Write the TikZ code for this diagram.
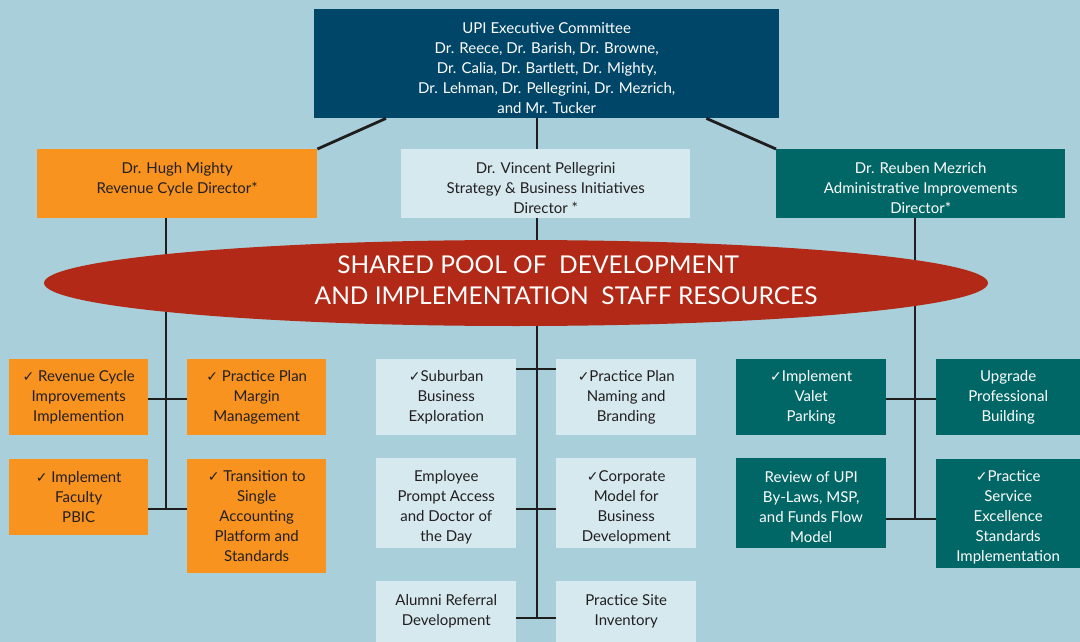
\documentclass[tikz,border=0pt]{standalone}
\usepackage{fontspec}
\setmainfont{Lato}
\newfontfamily\symfont{DejaVu Sans}
\usetikzlibrary{calc,shapes.geometric}
\definecolor{bgblue}{RGB}{169,207,218}
\definecolor{navyC}{RGB}{0,70,105}
\definecolor{orangeC}{RGB}{247,147,30}
\definecolor{paleC}{RGB}{213,233,239}
\definecolor{tealC}{RGB}{0,103,102}
\definecolor{redC}{RGB}{178,42,23}
\definecolor{inkC}{RGB}{35,31,32}
\definecolor{lineC}{RGB}{30,30,30}
% tick mark for completed items
\newcommand\ck{{\symfont\fontsize{14}{20}\selectfont ✓}}
% tall strut that lowers a text block inside its box
\newcommand\tp{\rule{0pt}{19pt}}
\begin{document}
\begin{tikzpicture}[x=1pt,y=-1pt,
  box/.style={rectangle, inner sep=2pt, align=center, anchor=north west,
    font=\fontsize{15}{20}\selectfont},
  obox/.style={box, fill=orangeC, text=inkC},
  pbox/.style={box, fill=paleC, text=inkC},
  tbox/.style={box, fill=tealC, text=white},
  nbox/.style={box, fill=navyC, text=white},
  conn/.style={draw=lineC, line width=2.8pt},
  pooltext/.style={text=white, font=\fontsize{24.5}{30}\selectfont, inner sep=0pt}]
\useasboundingbox[fill=bgblue] (0,0) rectangle (1080,642);

% committee and directors
\node[nbox, minimum width=465pt, minimum height=109pt] (exec) at (314,9)
  {\tp UPI Executive Committee\\Dr. Reece, Dr. Barish, Dr. Browne,\\Dr. Calia, Dr. Bartlett, Dr. Mighty,\\Dr. Lehman, Dr. Pellegrini, Dr. Mezrich,\\and Mr. Tucker};
\node[obox, minimum width=280pt, minimum height=69pt] (dirL) at (37,149)
  {\tp Dr. Hugh Mighty\\Revenue Cycle Director*\\~};
\node[pbox, minimum width=289pt, minimum height=69pt] (dirM) at (401,149)
  {\tp Dr. Vincent Pellegrini\\Strategy \& Business Initiatives\\Director *};
\node[tbox, minimum width=289pt, minimum height=69pt] (dirR) at (776,149)
  {\tp Dr. Reuben Mezrich\\Administrative Improvements\\Director*};

% revenue cycle projects
\node[obox, minimum width=139pt, minimum height=76pt] (A1) at (9,359)
  {\ck\ Revenue Cycle\\Improvements\\Implemention};
\node[obox, minimum width=139pt, minimum height=76pt] (A2) at (187,359)
  {\ck\ Practice Plan\\Margin\\Management};
\node[obox, minimum width=139pt, minimum height=76pt] (A3) at (9,459)
  {\ck\ Implement\\Faculty\\PBIC};
\node[obox, minimum width=139pt, minimum height=114pt] (A4) at (187,459)
  {\ck\ Transition to\\Single\\Accounting\\Platform and\\Standards};

% strategy projects
\node[pbox, minimum width=140pt, minimum height=76pt] (B1) at (376,359)
  {\ck Suburban\\Business\\Exploration};
\node[pbox, minimum width=140pt, minimum height=76pt] (B2) at (556,359)
  {\ck Practice Plan\\Naming and\\Branding};
\node[pbox, minimum width=140pt, minimum height=90pt] (B3) at (376,458)
  {\tp Employee\\Prompt Access\\and Doctor of\\the Day};
\node[pbox, minimum width=140pt, minimum height=90pt] (B4) at (556,458)
  {\tp\ck Corporate\\Model for\\Business\\Development};
\node[pbox, minimum width=140pt, minimum height=61pt] (B5) at (376,581)
  {Alumni Referral\\Development};
\node[pbox, minimum width=140pt, minimum height=61pt] (B6) at (556,581)
  {Practice Site\\Inventory};

% administrative projects
\node[tbox, minimum width=150pt, minimum height=76pt] (C1) at (736,359)
  {\ck Implement\\Valet\\Parking};
\node[tbox, minimum width=144pt, minimum height=76pt] (C2) at (936,359)
  {Upgrade\\Professional\\Building};
\node[tbox, minimum width=150pt, minimum height=90pt] (C3) at (736,458)
  {\tp Review of UPI\\By-Laws, MSP,\\and Funds Flow\\Model};
\node[tbox, minimum width=144pt, minimum height=109pt] (C4) at (936,459)
  {\tp\ck Practice\\Service\\Excellence\\Standards\\Implementation};

% junction points on the trunks
\coordinate (jL1) at (166,399);
\coordinate (jL2) at (166,509);
\coordinate (jM1) at (537,369);
\coordinate (jM2) at (537,509);
\coordinate (jM3) at (537,618);
\coordinate (jR1) at (915,399);
\coordinate (jR2) at (915,519);

% connectors
\draw[conn] ($(exec.south west)+(72,0)$) -- (dirL.north east);
\draw[conn] ($(exec.south east)+(-73,0)$) -- (dirR.north west);
\draw[conn] (exec.south -| jM1) -- (dirM.north -| jM1);
\draw[conn] (dirL.south -| jL1) -- (jL2);
\draw[conn] (dirM.south -| jM1) -- (jM3);
\draw[conn] (dirR.south -| jR1) -- (jR2);
\draw[conn] (A1.east |- jL1) -- (A2.west |- jL1);
\draw[conn] (A3.east |- jL2) -- (A4.west |- jL2);
\draw[conn] (B1.east |- jM1) -- (B2.west |- jM1);
\draw[conn] (B3.east |- jM2) -- (B4.west |- jM2);
\draw[conn] (B5.east |- jM3) -- (B6.west |- jM3);
\draw[conn] (C1.east |- jR1) -- (C2.west |- jR1);
\draw[conn] (C3.east |- jR2) -- (C4.west |- jR2);

% shared resource pool
\node[ellipse, fill=redC, minimum width=944pt, minimum height=86pt, inner sep=0pt] (pool) at (516,283) {};
\node[pooltext] (poolA) at (538,265) {SHARED POOL OF\ \ DEVELOPMENT};
\node[pooltext] (poolB) at (566,296) {AND IMPLEMENTATION\ \ STAFF RESOURCES};
\end{tikzpicture}
\end{document}
